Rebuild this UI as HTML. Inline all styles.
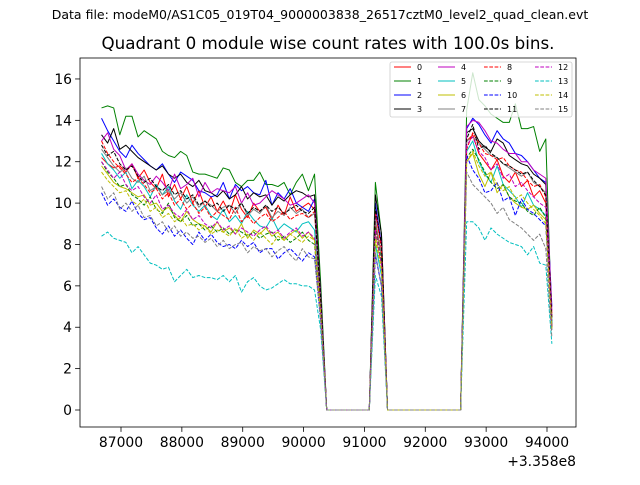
<!DOCTYPE html>
<html><head><meta charset="utf-8"><style>
body{margin:0;background:#fff;}
svg{font-family:"DejaVu Sans","Liberation Sans",sans-serif;}
</style></head><body>
<svg id="chart" width="640" height="480" viewBox="0 0 640 480">
<rect width="640" height="480" fill="#fff"/>
<text x="320" y="19" font-size="12.5" text-anchor="middle">Data file: modeM0/AS1C05_019T04_9000003838_26517cztM0_level2_quad_clean.evt</text>
<text x="328" y="49" font-size="16.7" text-anchor="middle">Quadrant 0 module wise count rates with 100.0s bins.</text>
<g id="plot"></g>
<g id="axes"></g>
<text x="576" y="466" font-size="13.9" text-anchor="end">+3.358e8</text>
<g id="legend"></g>
</svg>
<script>
const times=[86680,86780,86880,86980,87080,87180,87280,87380,87480,87580,87680,87780,87880,87980,88080,88180,88280,88380,88480,88580,88680,88780,88880,88980,89080,89180,89280,89380,89480,89580,89680,89780,89880,89980,90080,90180,90280,90380,90480,90580,90680,90780,90880,90980,91080,91180,91280,91380,91480,91580,91680,91780,91880,91980,92080,92180,92280,92380,92480,92580,92680,92780,92880,92980,93080,93180,93280,93380,93480,93580,93680,93780,93880,93980,94080];
const xTicks=[87000,88000,89000,90000,91000,92000,93000,94000];
const yTicks=[0,2,4,6,8,10,12,14,16];
const zerosA=[0,0,0,0,0,0,0,0];
const zerosB=[0,0,0,0,0,0,0,0,0,0,0,0,0];
const pre0=[12.2,11.9,11.7,11.8,11.5,11.9,11.2,11.6,11.0,10.7,11.4,10.3,10.9,10.2,10.8,10.0,10.6,9.8,10.3,9.6,10.1,9.5,10.4,9.7,9.3,10.0,9.6,9.8,9.2,9.9,9.4,10.3,9.6,9.8,10.0,9.7];
const post0=[13.0,13.3,12.4,12.0,11.6,12.1,11.3,11.0,11.5,10.8,11.1,10.3,10.6,10.0];
const pre1=[14.6,14.7,14.6,13.3,14.2,14.2,13.2,13.5,13.3,13.1,12.5,12.3,12.2,12.5,12.3,11.5,11.4,11.4,11.3,11.2,11.7,11.6,11.0,10.8,11.1,11.1,11.5,10.9,10.9,10.8,11.0,10.4,11.0,11.4,10.6,11.4];
const post1=[14.5,16.3,15.0,14.7,14.3,14.1,13.9,13.9,14.8,13.6,13.6,13.7,12.5,13.1];
const pre2=[14.1,13.5,13.0,12.5,12.2,12.8,12.4,12.1,11.8,11.6,11.9,11.4,11.0,11.5,11.3,11.1,10.6,10.5,10.3,10.4,11.0,10.2,10.9,10.6,10.8,10.5,10.4,11.1,9.9,10.5,10.2,10.7,10.0,9.8,9.6,10.2];
const post2=[13.6,14.1,13.8,13.3,12.9,13.5,13.1,12.9,12.4,12.3,12.0,11.6,11.2,11.0];
const pre3=[13.3,12.9,13.6,12.6,12.8,12.5,12.2,12.0,11.8,11.6,11.8,11.4,11.2,11.4,11.0,10.8,11.1,10.6,10.5,10.3,10.6,10.2,10.4,10.8,10.2,10.5,10.3,10.4,9.9,10.3,10.1,10.4,10.6,10.5,10.3,10.4];
const post3=[13.4,13.6,13.0,12.7,12.5,13.1,12.9,12.3,12.1,11.9,11.8,11.4,11.2,10.9];
const pre4=[13.0,13.4,12.6,12.3,11.6,11.9,11.4,11.1,10.9,11.3,11.0,10.6,11.4,10.7,10.9,11.2,10.3,11.0,10.5,10.7,10.6,10.5,10.8,10.0,10.5,9.9,10.0,10.3,10.6,10.4,10.2,9.9,10.0,10.2,10.4,10.0];
const post4=[13.7,14.0,13.9,13.5,13.0,12.9,12.6,12.4,12.4,12.0,12.0,11.6,11.4,11.2];
const pre5=[12.4,11.9,11.6,11.2,11.5,10.7,11.1,10.8,10.3,10.9,10.4,10.8,10.1,9.7,10.4,9.9,9.6,9.9,9.4,9.2,9.7,9.1,9.4,9.0,9.6,9.2,8.9,8.8,9.3,8.7,9.0,8.8,8.6,9.0,9.1,8.7];
const post5=[12.5,13.0,12.0,11.4,11.0,11.8,10.9,10.6,10.3,9.8,10.5,9.9,9.7,9.4];
const pre6=[11.8,11.4,11.0,10.8,10.7,10.5,10.3,10.4,9.9,10.0,9.6,9.8,9.4,9.1,9.6,9.2,9.0,8.9,8.6,9.1,8.6,8.8,8.5,9.0,8.3,8.7,8.5,8.8,8.4,8.6,8.2,8.5,8.7,8.3,8.6,8.2];
const post6=[12.0,12.4,11.4,10.8,11.5,10.5,10.9,10.3,10.0,9.8,9.7,9.9,9.5,9.2];
const pre7=[12.6,12.2,11.8,11.5,11.7,11.2,11.0,11.3,10.6,10.8,10.4,10.6,10.2,10.5,10.0,10.3,9.8,10.1,9.9,9.6,9.8,9.9,9.5,10.0,9.4,9.7,9.5,9.9,9.3,9.6,9.4,9.8,9.5,9.7,9.3,9.5];
const post7=[13.0,13.2,12.9,12.6,12.3,12.2,11.9,11.7,11.5,11.3,11.5,11.0,10.8,10.5];
const pre8=[13.0,12.4,12.0,11.7,11.4,11.0,11.2,10.9,10.5,10.7,10.2,10.5,9.9,10.2,9.7,10.0,9.5,9.8,9.3,9.6,9.4,9.2,9.8,9.1,9.4,9.0,9.3,9.5,9.1,9.3,9.6,9.2,9.4,9.5,9.3,9.6];
const post8=[12.6,13.4,12.9,12.4,12.3,12.1,12.2,11.8,11.6,11.5,11.1,10.8,10.9,10.3];
const pre9=[12.0,11.5,11.2,10.8,10.9,10.4,10.2,9.9,10.3,9.7,9.5,10.0,9.3,9.1,9.4,8.9,9.0,8.7,8.9,8.6,8.8,8.5,8.7,8.6,8.4,8.6,8.3,8.5,8.6,8.2,8.4,8.1,8.3,8.6,8.2,8.0];
const post9=[12.2,12.6,12.1,11.5,11.0,10.7,10.9,10.3,10.1,10.0,9.6,9.4,9.8,9.3];
const pre10=[10.5,9.9,10.2,9.8,9.6,10.1,9.5,9.2,9.3,8.8,8.5,8.9,8.4,8.7,8.3,8.0,8.6,8.2,8.5,8.1,7.9,8.0,7.8,8.2,7.9,8.1,7.6,7.8,7.8,7.3,7.6,7.8,7.5,7.2,7.6,7.4];
const post10=[12.3,11.6,11.2,10.5,10.6,11.0,10.1,10.3,9.4,10.2,9.7,9.5,9.2,8.9];
const pre11=[12.8,12.3,12.5,11.9,11.6,11.8,11.3,11.0,11.2,10.8,10.6,10.9,10.4,10.6,10.2,10.4,9.9,10.1,9.8,10.0,9.6,9.9,9.7,10.0,9.5,9.8,9.6,9.9,9.6,9.8,9.5,9.7,9.9,9.6,9.5,9.8];
const post11=[13.1,13.8,12.6,12.8,12.4,12.2,11.9,11.8,11.6,11.4,11.5,11.1,10.8,10.4];
const pre12=[12.0,11.6,11.2,11.5,10.9,10.6,10.8,10.3,10.0,10.4,9.7,9.9,9.5,9.3,9.7,9.2,9.4,9.0,8.8,9.1,8.7,8.9,8.5,8.8,8.6,8.4,8.7,8.9,8.5,8.7,8.3,8.6,8.8,8.4,8.6,8.3];
const post12=[12.8,13.2,12.5,12.2,11.6,11.9,11.2,11.4,10.8,11.0,10.6,10.3,10.0,9.8];
const pre13=[8.4,8.6,8.3,8.2,8.1,7.6,7.9,7.5,7.1,7.0,6.8,6.9,6.2,6.5,6.8,6.4,6.5,6.4,6.4,6.3,6.5,6.2,6.5,5.7,6.2,6.4,6.0,5.8,5.9,6.1,6.3,6.1,6.1,6.0,6.0,5.8];
const post13=[9.1,9.1,8.8,8.2,8.8,8.5,8.3,8.1,8.0,7.9,7.5,7.9,7.1,7.0];
const pre14=[11.5,11.1,10.8,10.5,10.6,10.1,9.9,10.2,9.6,9.8,9.3,9.5,9.1,9.3,8.9,9.0,8.7,8.9,8.5,8.7,8.6,8.4,8.8,8.3,8.5,8.2,8.6,8.3,8.0,8.4,8.2,8.5,8.3,8.1,8.4,8.2];
const post14=[12.0,12.5,11.8,11.3,11.5,10.9,10.6,10.8,10.2,10.4,10.0,9.7,9.4,9.0];
const pre15=[10.8,10.2,10.5,9.7,10.0,9.6,9.9,9.3,9.4,8.9,9.1,8.6,8.9,8.4,8.6,8.3,8.4,8.1,8.3,7.9,8.2,7.8,8.0,8.1,7.6,7.9,7.7,7.8,7.4,7.7,7.9,7.5,7.2,7.8,7.4,7.3];
const post15=[11.5,10.9,10.6,10.3,10.0,9.5,9.8,9.2,9.0,8.8,8.5,8.2,8.5,7.8];
const transVals=[5.4,6.2,5.6,5.7,5.5,4.9,4.7,5.3,5.3,4.6,4.3,5.4,4.7,3.9,4.7,4.3];
const spike1=[9.0,11.0,10.0,10.4,9.5,8.0,8.5,9.2,9.6,8.8,7.5,9.8,8.7,6.5,8.2,7.6];
const spike2=[7.5,8.5,8.0,8.5,8.0,6.5,7.0,7.5,7.8,7.2,6.0,8.0,7.0,5.5,6.8,6.0];
const endVals=[4.5,4.0,5.0,4.0,4.8,4.2,4.0,4.5,4.6,4.2,3.8,4.4,4.0,3.2,3.9,3.5];
const preSets=[pre0,pre1,pre2,pre3,pre4,pre5,pre6,pre7,pre8,pre9,pre10,pre11,pre12,pre13,pre14,pre15];
const postSets=[post0,post1,post2,post3,post4,post5,post6,post7,post8,post9,post10,post11,post12,post13,post14,post15];
const seriesNames=['0','1','2','3','4','5','6','7','8','9','10','11','12','13','14','15'];
const colors=['#ff0000','#008000','#0000ff','#000000','#bf00bf','#00bfbf','#bfbf00','#808080'];

const NS='http://www.w3.org/2000/svg';
const L=80,R=576,T=58,B=427;
function xs(t){return 121+(t-87000)*0.060857;}
function ys(v){return 410-v*20.69;}
function mk(tag,attrs,parent){const e=document.createElementNS(NS,tag);for(const k in attrs)e.setAttribute(k,attrs[k]);parent.appendChild(e);return e;}

const plot=document.getElementById('plot');
const defs=mk('defs',{},plot);
const cp=mk('clipPath',{id:'clip'},defs);
mk('rect',{x:L,y:T,width:R-L,height:B-T},cp);
const lines=mk('g',{'clip-path':'url(#clip)'},plot);
for(let i=0;i<16;i++){
  const vals=preSets[i].concat([transVals[i]],zerosA,[spike1[i],spike2[i]],zerosB,postSets[i],[endVals[i]]);
  let d='';
  vals.forEach((v,j)=>{d+=(j?'L':'M')+xs(times[j]).toFixed(2)+','+ys(v).toFixed(2);});
  const p=mk('path',{d:d,fill:'none',stroke:colors[i%8],'stroke-width':1,'stroke-linejoin':'round'},lines);
  if(i>=8)p.setAttribute('stroke-dasharray','3.7,1.6');
  
  
}

const axes=document.getElementById('axes');
const frame=mk('rect',{x:L,y:T,width:R-L,height:B-T,fill:'none',stroke:'#000','stroke-width':0.8},axes);


xTicks.forEach(t=>{
  const x=xs(t);
  const tk=mk('line',{x1:x,x2:x,y1:B,y2:B+4.9,stroke:'#000','stroke-width':0.8},axes);
  
  
  const tx=mk('text',{x:x,y:B+20,'font-size':13.9,'text-anchor':'middle'},axes);
  tx.textContent=t;
  
  
});
yTicks.forEach(v=>{
  const y=ys(v);
  const tk=mk('line',{x1:L-4.9,x2:L,y1:y,y2:y,stroke:'#000','stroke-width':0.8},axes);
  
  
  const tx=mk('text',{x:L-8,y:y+5,'font-size':13.9,'text-anchor':'end'},axes);
  tx.textContent=v;
  
  
});

const leg=document.getElementById('legend');


mk('rect',{x:390,y:62,width:182,height:55,rx:2,fill:'#fff','fill-opacity':0.8,stroke:'#ccc','stroke-width':0.8},leg);
const colX=[394,438,484,535];
const rowY=[67,81,95,109];
for(let i=0;i<16;i++){
  const c=Math.floor(i/4),r=i%4;
  const g=mk('g',{},leg);
  
  
  const ln=mk('line',{x1:colX[c],x2:colX[c]+17,y1:rowY[r],y2:rowY[r],stroke:colors[i%8],'stroke-width':1},g);
  if(i>=8)ln.setAttribute('stroke-dasharray','3.7,1.6');
  const tx=mk('text',{x:colX[c]+23,y:rowY[r]+3,'font-size':8},g);
  tx.textContent=seriesNames[i];
}
</script>
</body></html>
